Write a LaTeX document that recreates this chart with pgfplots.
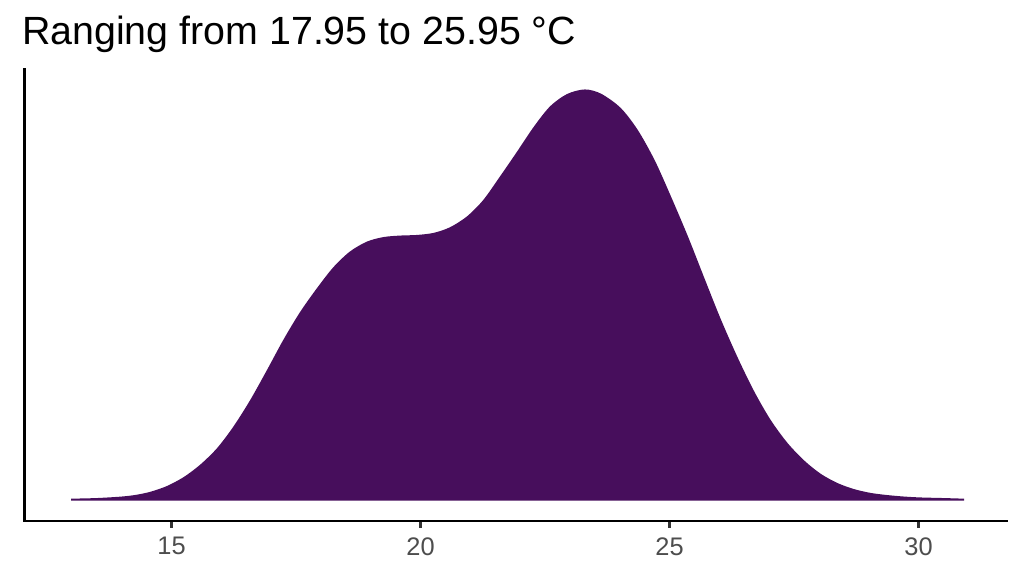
\documentclass[border=0pt]{standalone}
\usepackage{fontspec}
\setmainfont{Liberation Sans}
\usepackage{pgfplots}
\pgfplotsset{compat=1.18}
\definecolor{densfill}{HTML}{470E5C}
\definecolor{ticklab}{HTML}{4D4D4D}
\definecolor{tickcol}{HTML}{333333}

\begin{document}
\begin{tikzpicture}
\useasboundingbox (-24.5bp,-55bp) rectangle (999.5bp,521bp);
\begin{axis}[
	at={(0,0)}, anchor=south west,
	scale only axis,
	width=982.5bp, height=451.5bp,
	xmin=12.048, xmax=31.777,
	ymin=-0.0070, ymax=0.1435,
	axis x line=bottom, axis y line=left,
	axis line style={line width=2.8bp, black, -, line cap=rect},
	ytick=\empty,
	xtick={15,20,25,30},
	tick align=outside,
	major tick length=7bp,
	tick style={line width=2.6bp, tickcol},
	xticklabel style={font=\fontsize{25.5}{30}\selectfont, text=ticklab, yshift=-6bp},
	/pgf/number format/assume math mode=true,
	]
	% density
	\addplot[smooth, draw=densfill, line width=1.5bp, fill=densfill]
	coordinates {
		(13.0,0.0002) (13.5,0.0004) (14.0,0.0009) (14.3,0.0015)
		(14.58,0.0025) (14.91,0.0044) (15.25,0.0074) (15.58,0.0115)
		(15.92,0.0170) (16.25,0.0242) (16.59,0.0331) (16.93,0.0432)
		(17.26,0.0533) (17.59,0.0624) (17.93,0.0704) (18.26,0.0774)
		(18.59,0.0826) (18.93,0.0859) (19.26,0.0874) (19.6,0.0879)
		(19.93,0.0881) (20.27,0.0888) (20.6,0.0907) (20.94,0.0943)
		(21.27,0.0998) (21.6,0.1075) (21.94,0.1157) (22.28,0.1241)
		(22.61,0.1310) (22.95,0.1351) (23.3,0.1366) (23.62,0.1352)
		(24.01,0.1305) (24.35,0.1232) (24.69,0.1131) (25.02,0.1009)
		(25.36,0.0876) (25.69,0.0737) (26.02,0.0600) (26.36,0.0472)
		(26.69,0.0360) (27.02,0.0265) (27.36,0.0188) (27.7,0.0129)
		(28.03,0.0085) (28.37,0.0054) (28.7,0.0034) (29.04,0.0021)
		(29.37,0.0014) (29.71,0.0009) (30.04,0.0006) (30.5,0.0004)
		(30.9,0.0002)
	} \closedcycle;
\end{axis}
\node[anchor=base west, inner sep=0, font=\fontsize{39.5}{44}\selectfont]
	at (-2.5bp,476bp) {Ranging from 17.95 to 25.95 °C};
\end{tikzpicture}
\end{document}
